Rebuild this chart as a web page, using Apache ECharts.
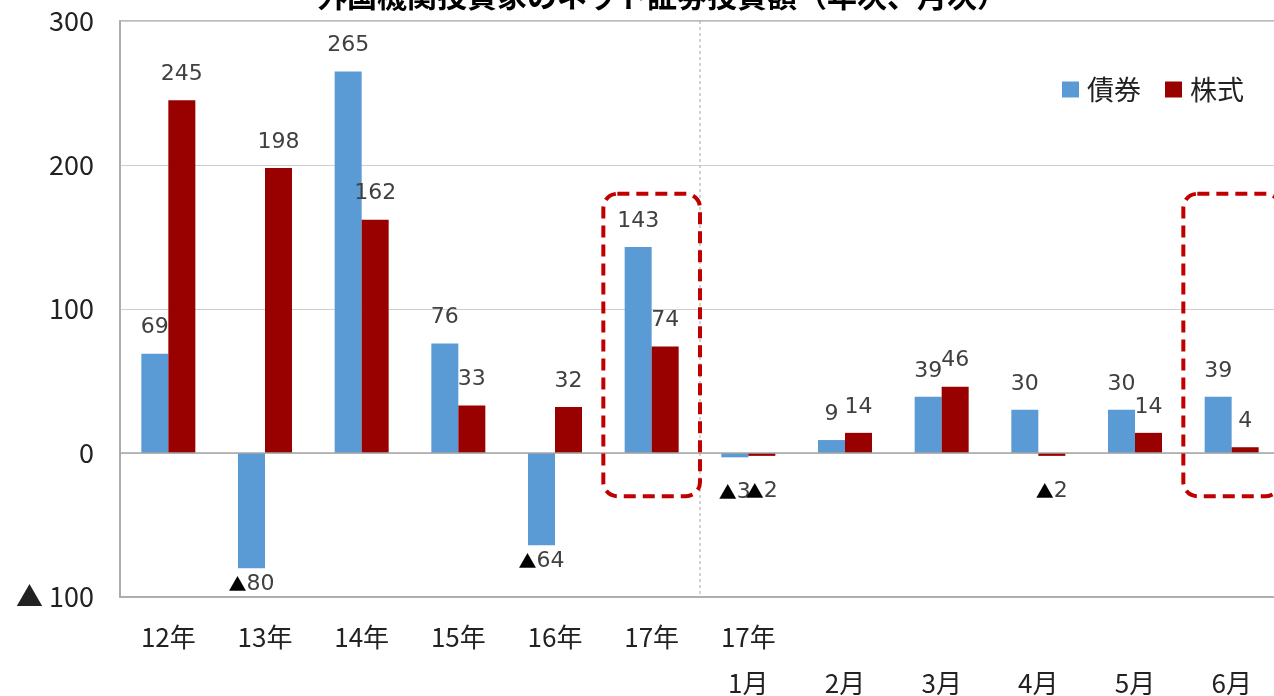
<!DOCTYPE html>
<html>
<head>
<meta charset="utf-8">
<script src="https://cdn.jsdelivr.net/npm/echarts@6/dist/echarts.min.js"></script>
<style>
html,body{margin:0;padding:0;background:#fff;}
#chart{width:1274px;height:696px;}
</style>
</head>
<body>
<div id="chart"></div>
<script>
// ---- data ----
var titleText = '外国機関投資家のネット証券投資額（年次、月次）';
var categories = ['12年','13年','14年','15年','16年','17年','17年\n1月','\n2月','\n3月','\n4月','\n5月','\n6月'];
var seriesNames = ['債券','株式'];
var bonds  = [69, -80, 265, 76, -64, 143, -3, 9, 39, 30, 30, 39];
var stocks = [245, 198, 162, 33, 32, 74, -2, 14, 46, -2, 14, 4];
var yTicks = [-100, 0, 100, 200, 300];
var highlightIdx = [5, 11];        // categories enclosed by red dashed boxes
var highlightRange = [-30, 180];   // value range of those boxes
var dividerIdx = 6;                // dashed divider before monthly data

var FONT = '"Noto Sans CJK JP", "Noto Sans", sans-serif';
var NUMFONT = '"DejaVu Sans", "Noto Sans CJK JP", sans-serif';
function items(arr){
  return arr.map(function(v){
    if (v < 0) {
      return {value: v, label: {position: 'bottom', distance: (Math.abs(v) < 10 ? 24 : 5)}};
    }
    return {value: v};
  });
}
var labelStyle = {
  show: true, position: 'top', distance: 15,
  fontFamily: NUMFONT, fontSize: 22, color: '#404040',
  formatter: function(p){ return p.value < 0 ? '{t|▲}' + (-p.value) : String(p.value); },
  rich: {t: {fontFamily: FONT, fontSize: 18, color: '#000'}}
};

var chart = echarts.init(document.getElementById('chart'), null, {renderer: 'canvas'});
var option = {
  animation: false,
  backgroundColor: '#fff',
  title: {
    text: titleText, left: 312, top: -24,
    textStyle: {fontFamily: FONT, fontSize: 30, fontWeight: 'bold', color: '#000'}
  },
  legend: {
    data: seriesNames, left: 1057, top: 71, icon: 'rect',
    itemWidth: 17, itemHeight: 16, itemGap: 24,
    textStyle: {fontFamily: FONT, fontSize: 27, color: '#222', padding: [0,0,0,3]}
  },
  grid: {
    left: 120, right: -6, top: 21, bottom: 99,
    outerBoundsMode: 'none', containLabel: false,
    show: true, borderColor: '#a6a6a6', borderWidth: 1.5
  },
  xAxis: {
    type: 'category', data: categories,
    axisLine: {onZero: false, lineStyle: {color: '#a6a6a6', width: 1.5}},
    axisTick: {show: false},
    axisLabel: {fontFamily: FONT, fontSize: 26, color: '#222', margin: 17, lineHeight: 46, verticalAlign: 'top', interval: 0},
    splitLine: {show: false}
  },
  yAxis: {
    type: 'value', min: yTicks[0], max: yTicks[yTicks.length-1], interval: 100,
    axisLine: {show: true, lineStyle: {color: '#a6a6a6', width: 1.5}},
    axisTick: {show: false},
    splitLine: {lineStyle: {color: '#cfcfcf', width: 1.2}},
    axisLabel: {
      fontFamily: FONT, fontSize: 27, color: '#222', margin: 26,
      formatter: function(v){ return v < 0 ? '▲ ' + (-v) : String(v); }
    }
  },
  series: [
    {
      name: seriesNames[0], type: 'bar', data: items(bonds),
      barWidth: 27, barGap: '0%',
      itemStyle: {color: '#5B9BD5'},
      label: labelStyle,
      markLine: {
        silent: true, symbol: 'none', label: {show: false},
        lineStyle: {color: '#a6a6a6', type: 'solid', width: 1.5},
        data: [{yAxis: 0}]
      }
    },
    {
      name: seriesNames[1], type: 'bar', data: items(stocks),
      barWidth: 27, barGap: '0%',
      itemStyle: {color: '#990000'},
      label: labelStyle
    }
  ]
};
chart.setOption(option);

// positions derived from the axes
var c0 = chart.convertToPixel({seriesIndex: 0}, [0, 0]);
var c1 = chart.convertToPixel({seriesIndex: 0}, [1, 0]);
var half = (c1[0] - c0[0]) / 2;
var topPx = chart.convertToPixel({seriesIndex: 0}, [0, yTicks[yTicks.length-1]])[1];
var botPx = chart.convertToPixel({seriesIndex: 0}, [0, yTicks[0]])[1];
var dv = chart.convertToPixel({seriesIndex: 0}, [dividerIdx, 0])[0] - half;

var graphics = [{
  type: 'line', silent: true, z: 50,
  shape: {x1: dv, y1: topPx, x2: dv, y2: botPx},
  style: {stroke: '#a8a8a8', lineWidth: 1, lineDash: [3, 3]}
}];
highlightIdx.forEach(function(i){
  var p = chart.convertToPixel({seriesIndex: 0}, [i, highlightRange[1]]);
  var q = chart.convertToPixel({seriesIndex: 0}, [i, highlightRange[0]]);
  graphics.push({
    type: 'rect', silent: true, z: 100,
    shape: {x: p[0] - half, y: p[1], width: half * 2, height: q[1] - p[1], r: 14},
    style: {fill: 'none', stroke: '#C00000', lineWidth: 4, lineDash: [12, 7]}
  });
});
chart.setOption({graphic: graphics});
</script>
</body>
</html>
